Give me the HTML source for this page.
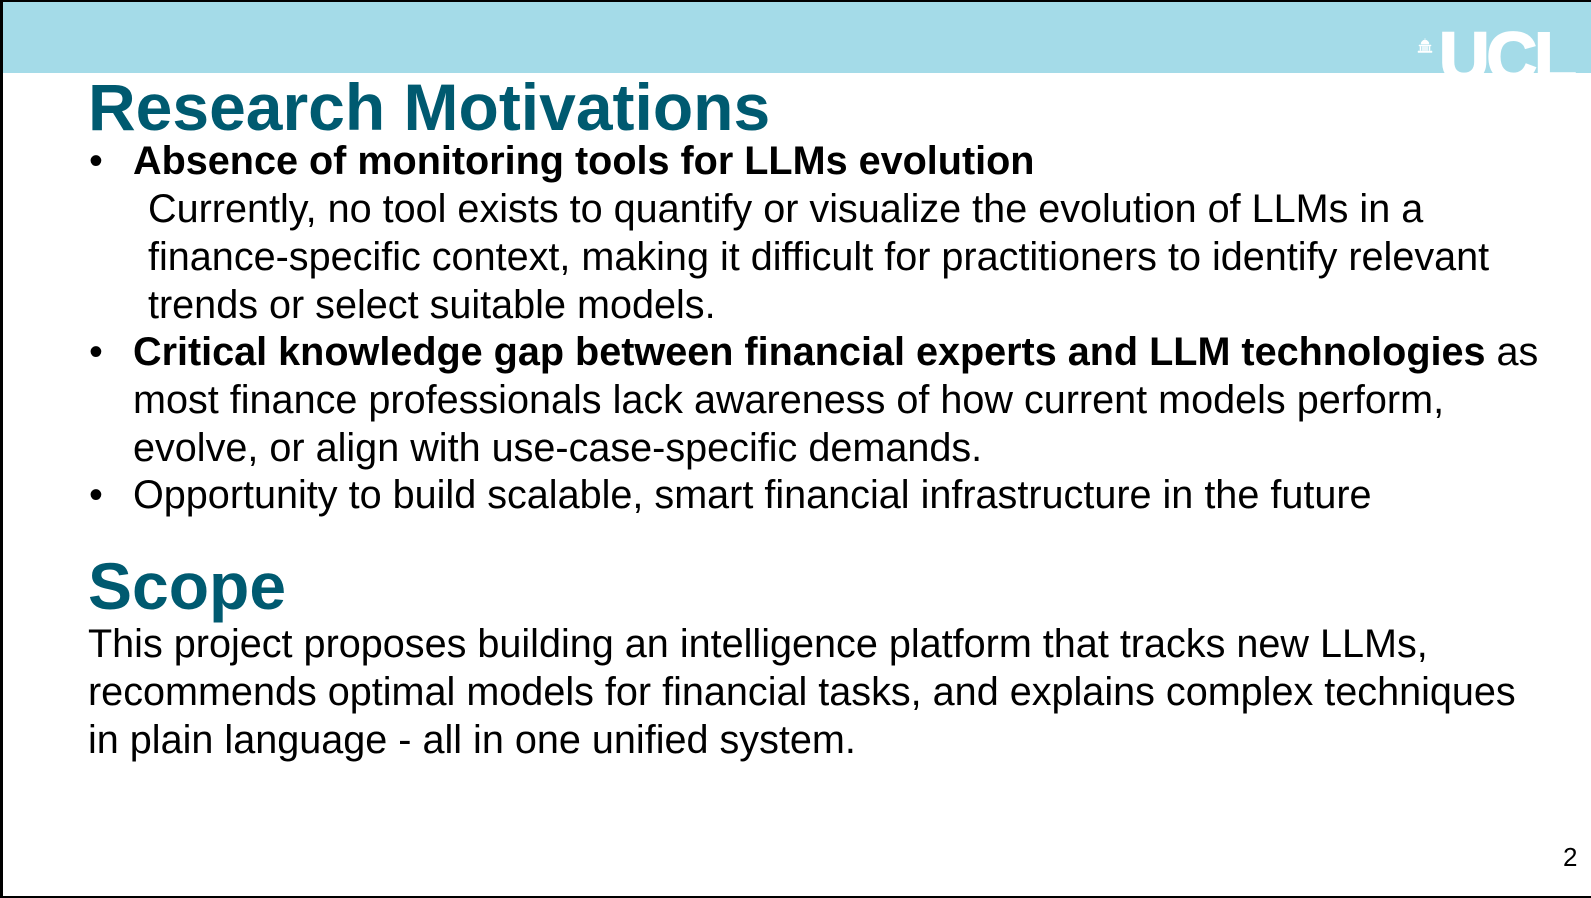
<!DOCTYPE html>
<html><head><meta charset="utf-8"><style>
html,body{margin:0;padding:0;}
body{width:1591px;height:898px;position:relative;overflow:hidden;background:#000;font-family:"Liberation Sans",Arial,sans-serif;}
#slide{position:absolute;left:3px;top:2px;width:1588px;height:894px;background:#fff;overflow:hidden;}
#banner{position:absolute;left:0;top:0;width:1588px;height:71px;background:#a4dbe8;overflow:hidden;}
.abs{position:absolute;white-space:nowrap;}
h1{margin:0;font-size:66px;line-height:68px;font-weight:bold;color:#005a70;}
.t{font-size:39.6px;line-height:48px;color:#000;}
</style></head><body>
<div id="slide">
<div id="banner">
  <div class="abs" style="left:1436px;top:20px;font-size:70px;font-weight:bold;color:#fff;letter-spacing:-3px;line-height:70px;-webkit-text-stroke:2px #fff;">UCL</div>
  <svg class="abs" style="left:1414px;top:35px" width="16" height="16" viewBox="0 0 16 16"><path d="M8 1v2M4 7a4 4 0 0 1 8 0z M2 8h12v1H2z M3 9.5h1v4H3z M5.5 9.5h1v4h-1z M7.5 9.5h1v4h-1z M9.5 9.5h1v4h-1z M12 9.5h1v4h-1z M1 14h14v1.5H1z" fill="#fff" stroke="#fff" stroke-width="0.5"/></svg>
</div>
<h1 class="abs" style="left:85px;top:71px;">Research Motivations</h1>
<div class="abs t" style="left:86px;top:135px;">•</div>
<div class="abs t" style="left:130px;top:135px;font-weight:bold;">Absence of monitoring tools for LLMs evolution</div>
<div class="abs t" style="left:145px;top:183px;">Currently, no tool exists to quantify or visualize the evolution of LLMs in a<br>finance-specific context, making it difficult for practitioners to identify relevant<br>trends or select suitable models.</div>
<div class="abs t" style="left:86px;top:326px;">•</div>
<div class="abs t" style="left:130px;top:326px;"><b>Critical knowledge gap between financial experts and LLM technologies</b> as<br>most finance professionals lack awareness of how current models perform,<br>evolve, or align with use-case-specific demands.</div>
<div class="abs t" style="left:86px;top:469px;">•</div>
<div class="abs t" style="left:130px;top:469px;">Opportunity to build scalable, smart financial infrastructure in the future</div>
<h1 class="abs" style="left:85px;top:550px;">Scope</h1>
<div class="abs t" style="left:85px;top:618px;">This project proposes building an intelligence platform that tracks new LLMs,<br>recommends optimal models for financial tasks, and explains complex techniques<br>in plain language - all in one unified system.</div>
<div class="abs" style="left:1560px;top:840px;font-size:26px;line-height:30px;">2</div>
</div>
</body></html>
